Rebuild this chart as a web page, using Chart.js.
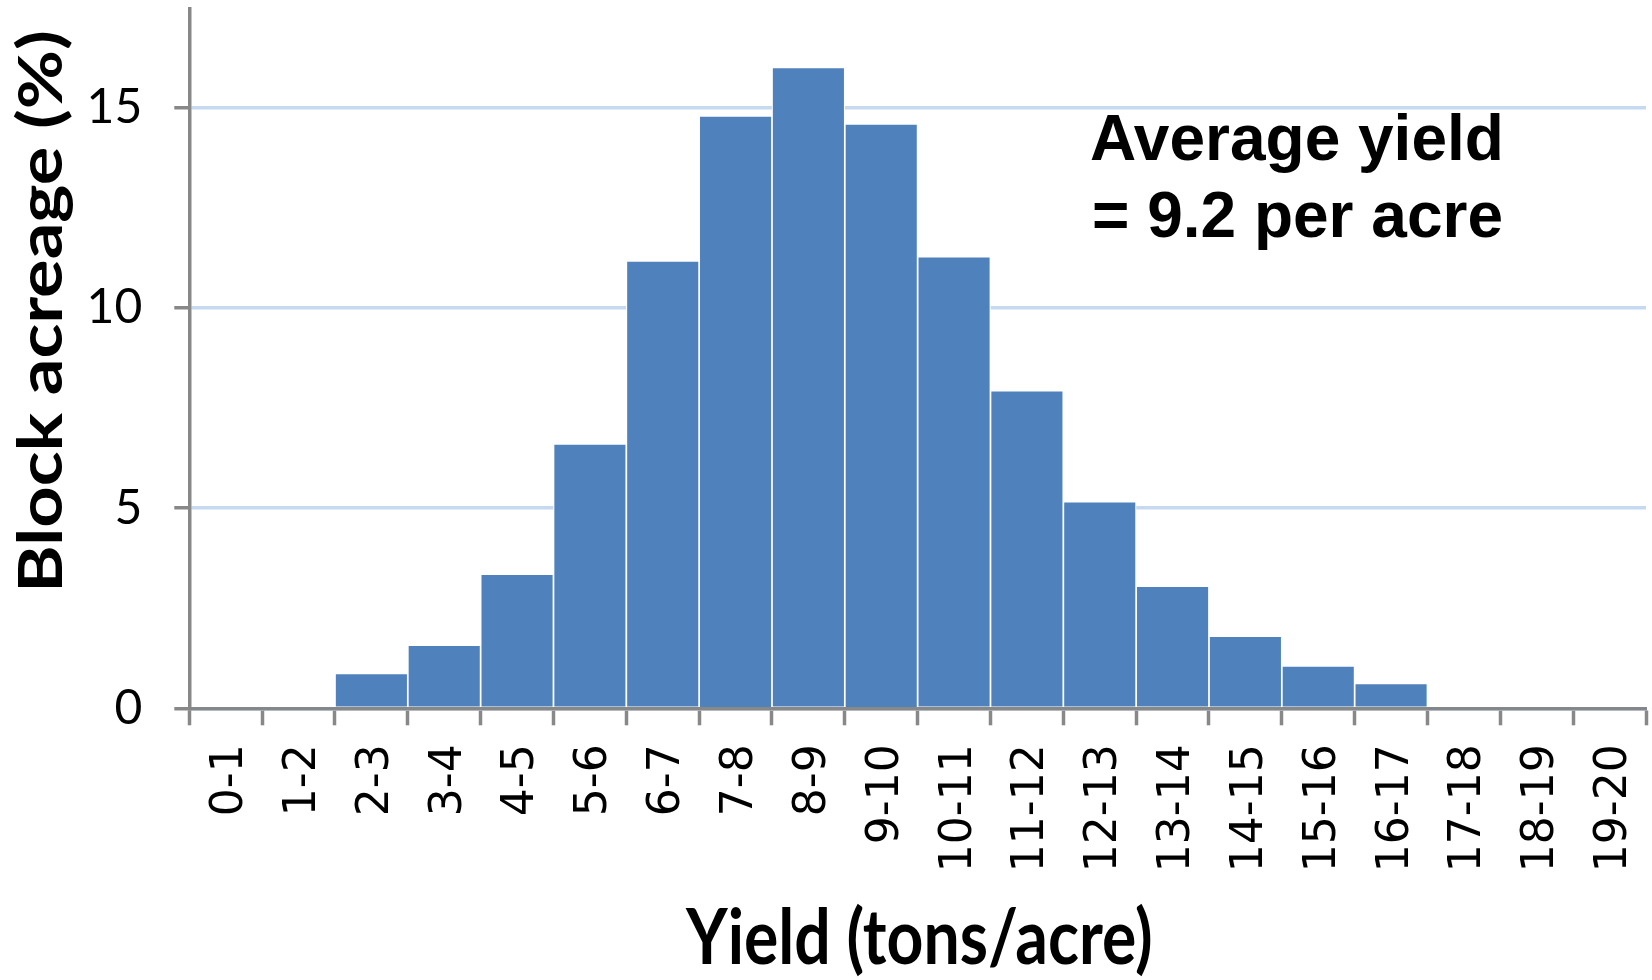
<!DOCTYPE html>
<html>
<head>
<meta charset="utf-8">
<title>Yield distribution</title>
<script src="https://cdn.jsdelivr.net/npm/chart.js@4/dist/chart.umd.min.js"></script>
<style>
  html, body { margin: 0; padding: 0; background: #fff; }
  #wrap { width: 1652px; height: 980px; }
</style>
</head>
<body>
<div id="wrap"><canvas id="yieldChart" width="1652" height="980"></canvas></div>
<script>
// yield bins (tons/acre) and share of block acreage in each
const yieldBins = ['0-1', '1-2', '2-3', '3-4', '4-5', '5-6', '6-7', '7-8', '8-9', '9-10',
    '10-11', '11-12', '12-13', '13-14', '14-15', '15-16', '16-17', '17-18', '18-19', '19-20'];
const acreagePct = [0, 0, 0.87, 1.58, 3.35, 6.6, 11.17, 14.79, 16.0, 14.59,
    11.28, 7.93, 5.16, 3.05, 1.8, 1.06, 0.62, 0, 0, 0];
const yTicks = [0, 5, 10, 15];
const xTitle = 'Yield (tons/acre)';
const yTitle = 'Block acreage (%)';
const noteLines = ['Average yield', '= 9.2 per acre'];

const axisGray = '#888888';
const gridBlue = '#c6d9f0';
const barBlue = '#4f81bd';

// draw text so its ink fills a given width and cap height
function fitText(ctx, text, font, x, y, w, h, rot) {
    ctx.save();
    ctx.translate(x, y);
    ctx.rotate(rot);
    ctx.font = font;
    ctx.textAlign = 'left';
    ctx.textBaseline = 'alphabetic';
    const m = ctx.measureText(text);
    const inkW = m.actualBoundingBoxLeft + m.actualBoundingBoxRight;
    const cap = ctx.measureText('H').actualBoundingBoxAscent;
    ctx.scale(w / inkW, h / cap);
    ctx.fillStyle = '#000';
    ctx.fillText(text, m.actualBoundingBoxLeft, 0);
    ctx.restore();
}

const labelsPlugin = {
    id: 'labelsPlugin',
    afterDraw(chart) {
        const ctx = chart.ctx;
        fitText(ctx, xTitle, 'bold 64px Lato', 685, 964, 466, 55, 0);
        fitText(ctx, yTitle, 'bold 64px Lato', 61.7, 587, 555, 43.4, -Math.PI / 2);

        ctx.save();
        ctx.font = 'bold 64px "Liberation Sans"';
        ctx.fillStyle = '#000';
        ctx.textBaseline = 'alphabetic';
        ctx.textAlign = 'left';
        ctx.fillText(noteLines[0], 1090, 160);
        ctx.fillText(noteLines[1], 1092, 237);
        ctx.restore();
    }
};

const ctx = document.getElementById('yieldChart').getContext('2d');
const yieldChart = new Chart(ctx, {
    type: 'bar',
    data: {
        labels: yieldBins,
        datasets: [{
            label: 'Block acreage',
            data: acreagePct,
            backgroundColor: barBlue,
            borderColor: '#ffffff',
            borderWidth: c => (c.raw > 0 ? 1.2 : 0),
            barPercentage: 1,
            categoryPercentage: 1
        }]
    },
    options: {
        responsive: false,
        animation: false,
        layout: { padding: { left: 0, right: 6, top: 9, bottom: 0 } },
        plugins: {
            legend: { display: false },
            tooltip: { enabled: false }
        },
        scales: {
            x: {
                z: 1,
                grid: {
                    drawOnChartArea: false,
                    drawTicks: true,
                    tickLength: 17,
                    tickWidth: 3.5,
                    tickColor: axisGray
                },
                border: { color: axisGray, width: 3.5 },
                ticks: {
                    autoSkip: false,
                    minRotation: 90,
                    maxRotation: 90,
                    padding: 19,
                    labelOffset: 5,
                    color: '#000',
                    font: { family: 'DejaVu Sans', size: 44 }
                },
                afterFit: s => {
                    s.height = 980 - 708.3;
                    s.paddingLeft = 0;
                    s.paddingRight = 0;
                }
            },
            y: {
                min: 0,
                max: 17.46,
                ticks: {
                    stepSize: 5,
                    padding: 32,
                    color: '#000',
                    font: { family: 'Lato', size: 48 }
                },
                afterBuildTicks: s => {
                    s.ticks = yTicks.map(v => ({ value: v }));
                },
                grid: {
                    color: gridBlue,
                    lineWidth: 3.5,
                    tickLength: 15,
                    tickWidth: 3.5,
                    tickColor: axisGray
                },
                border: { color: axisGray, width: 3.5 },
                afterFit: s => {
                    s.width = 189.3;
                    s.paddingTop = 0;
                    s.paddingBottom = 0;
                }
            }
        }
    },
    plugins: [labelsPlugin]
});
</script>
</body>
</html>
